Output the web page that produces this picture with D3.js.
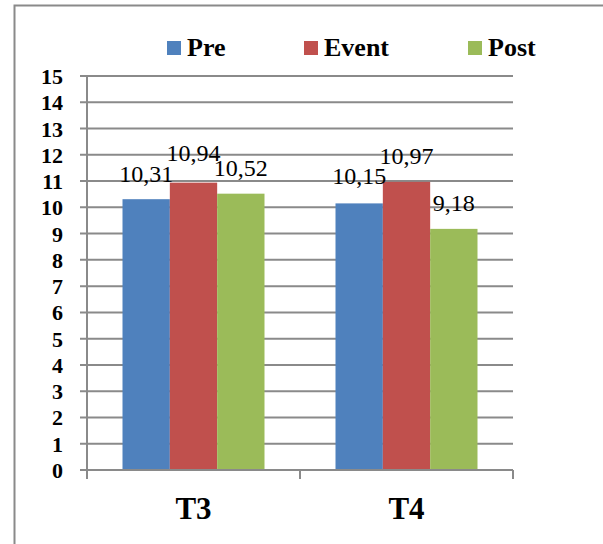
<!DOCTYPE html>
<html>
<head>
<meta charset="utf-8">
<script src="https://cdn.jsdelivr.net/npm/d3@7"></script>
<style>
  html, body { margin: 0; padding: 0; background: #fff; }
  svg { display: block; }
  svg text { font-family: "Liberation Serif", "Times New Roman", "DejaVu Serif", serif; }
</style>
</head>
<body>
<svg id="chart" width="603" height="544"></svg>
<script>
// Categories, series and values
const categories = ["T3", "T4"];
const seriesNames = ["Pre", "Event", "Post"];
const preValues = [10.31, 10.15];
const eventValues = [10.94, 10.97];
const postValues = [10.52, 9.18];
const valueLabels = [["10,31", "10,94", "10,52"], ["10,15", "10,97", "9,18"]];
const yTicks = [0, 1, 2, 3, 4, 5, 6, 7, 8, 9, 10, 11, 12, 13, 14, 15];

const colors = { Pre: "#4F81BD", Event: "#C0504D", Post: "#9BBB59" };
const seriesValues = { Pre: preValues, Event: eventValues, Post: postValues };

const rows = categories.map((c, i) => ({
  category: c,
  items: seriesNames.map((s, j) => ({ series: s, value: seriesValues[s][i], label: valueLabels[i][j] }))
}));

const svg = d3.select("#chart");
const serif = '"Liberation Serif", "Times New Roman", "DejaVu Serif", serif';
const axisColor = "#8a8a8a";

// outer frame
svg.append("rect")
  .attr("x", 14.5).attr("y", 5.5)
  .attr("width", 620).attr("height", 560)
  .attr("fill", "none").attr("stroke", axisColor).attr("stroke-width", 2);

const plotLeft = 87, plotRight = 513, plotTop = 76, plotBottom = 470;

const y = d3.scaleLinear().domain([0, 15]).range([plotBottom, plotTop]);
const x0 = d3.scaleBand().domain(categories).range([plotLeft, plotRight]).padding(0);
const x1 = d3.scaleBand().domain(seriesNames).range([0, x0.bandwidth()])
  .paddingInner(0).paddingOuter(0.75);

// horizontal gridlines with tick stubs
svg.append("g").selectAll("line").data(yTicks).join("line")
  .attr("x1", plotLeft - 7).attr("x2", plotRight)
  .attr("y1", d => y(d)).attr("y2", d => y(d))
  .attr("stroke", axisColor).attr("stroke-width", 2);

// y axis labels
const yAxis = d3.axisLeft(y).tickValues(yTicks).tickSize(0).tickPadding(0).tickFormat(d3.format("d"));
const yg = svg.append("g").attr("transform", `translate(${plotLeft - 24},0)`).call(yAxis)
  .attr("font-family", null).attr("font-size", null);
yg.select(".domain").remove();
yg.selectAll("text")
  .style("font-family", serif).style("font-weight", "bold").style("font-size", "22px")
  .attr("fill", "#000").attr("dy", "0.34em");

// y axis line
svg.append("line")
  .attr("x1", plotLeft).attr("x2", plotLeft)
  .attr("y1", plotTop).attr("y2", plotBottom + 9)
  .attr("stroke", axisColor).attr("stroke-width", 2);

// bars
const groups = svg.append("g").selectAll("g").data(rows).join("g")
  .attr("transform", d => `translate(${x0(d.category)},0)`);

groups.selectAll("rect").data(d => d.items).join("rect")
  .attr("x", d => x1(d.series))
  .attr("width", x1.bandwidth())
  .attr("y", d => y(d.value))
  .attr("height", d => y(0) - y(d.value))
  .attr("fill", d => colors[d.series]);

// value labels above bars
const labelLift = { "T3|Event": 22, "T4|Pre": 19 };
groups.selectAll("text").data(d => d.items.map(it => ({ ...it, category: d.category }))).join("text")
  .attr("x", d => x1(d.series) + x1.bandwidth() / 2)
  .attr("y", d => y(d.value) - (labelLift[d.category + "|" + d.series] || 17.5))
  .attr("text-anchor", "middle")
  .style("font-family", serif).style("font-size", "24px").attr("fill", "#000")
  .text(d => d.label);

// x axis
const xAxis = d3.axisBottom(x0).tickSize(0).tickPadding(0);
const xg = svg.append("g").attr("transform", `translate(0,${plotBottom})`).call(xAxis)
  .attr("font-family", null).attr("font-size", null);
xg.select(".domain").attr("stroke", axisColor).attr("stroke-width", 2)
  .attr("d", `M${plotLeft},0H${plotRight}`);
xg.selectAll(".tick line").remove();
xg.selectAll("text")
  .style("font-family", serif).style("font-weight", "bold").style("font-size", "31px")
  .attr("fill", "#000").attr("dy", 0).attr("y", 49);

// category boundary ticks
const boundaries = categories.map(c => x0(c) + x0.bandwidth()).concat([plotLeft]);
svg.append("g").selectAll("line").data(boundaries).join("line")
  .attr("x1", d => d).attr("x2", d => d)
  .attr("y1", plotBottom).attr("y2", plotBottom + 9)
  .attr("stroke", axisColor).attr("stroke-width", 2);

// legend
const legendX = { Pre: 167, Event: 304, Post: 468 };
const legend = svg.append("g").selectAll("g").data(seriesNames).join("g")
  .attr("transform", d => `translate(${legendX[d]},41)`);
legend.append("rect").attr("width", 14).attr("height", 14).attr("fill", d => colors[d]);
legend.append("text")
  .attr("x", 20).attr("y", 15)
  .style("font-family", serif).style("font-weight", "bold").style("font-size", "26px")
  .attr("fill", "#000")
  .text(d => d);
</script>
</body>
</html>
